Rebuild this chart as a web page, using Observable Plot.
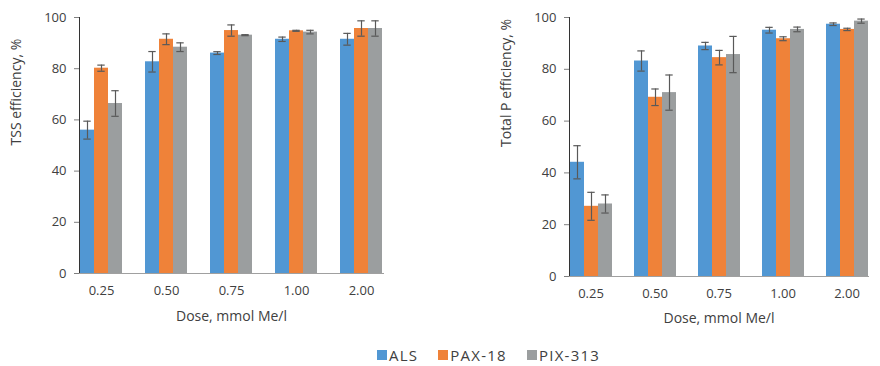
<!DOCTYPE html>
<html><head><meta charset="utf-8">
<script src="https://cdn.jsdelivr.net/npm/d3@7"></script>
<script src="https://cdn.jsdelivr.net/npm/@observablehq/plot@0.6"></script>
<style>
body{margin:0;background:#fff;font-family:"Open Sans",sans-serif;}
#wrap{width:880px;height:366px;background:#fff;}
#charts{display:flex;width:880px;height:330px;}
#legend{display:flex;align-items:flex-start;width:880px;height:36px;padding-top:17px;padding-left:377px;box-sizing:border-box;font-family:"Open Sans",sans-serif;font-size:15px;line-height:16px;color:#404040;letter-spacing:1.25px;}
.item{display:inline-flex;align-items:center;margin-right:20px;white-space:nowrap;height:16px;}
.sw{display:inline-block;width:10px;height:10px;margin-right:2px;}
</style></head><body>
<div id="wrap"><div id="charts"></div><div id="legend"></div></div>
<script>
const doses = ["0.25", "0.50", "0.75", "1.00", "2.00"];
const series = ["ALS", "PAX-18", "PIX-313"];
const colors = ["#5197d3", "#ef8239", "#9b9e9f"];
const yTicks = [0, 20, 40, 60, 80, 100];
const xTitle = "Dose, mmol Me/l";

// TSS efficiency, %
const tssALS = [56.0, 82.7, 86.1, 91.5, 91.5];
const tssALSErr = [3.5, 4.0, 0.55, 0.85, 2.3];
const tssPAX = [80.2, 91.5, 94.9, 94.8, 95.7];
const tssPAXErr = [1.2, 2.1, 2.2, 0.2, 3.0];
const tssPIX = [66.4, 88.4, 93.1, 94.3, 95.7];
const tssPIXErr = [5.0, 1.7, 0.2, 0.7, 3.0];

// Total P efficiency, %
const tpALS = [44.1, 83.2, 89.0, 95.1, 97.4];
const tpALSErr = [6.4, 3.9, 1.4, 1.1, 0.5];
const tpPAX = [27.1, 69.2, 84.5, 91.8, 95.4];
const tpPAXErr = [5.4, 3.2, 2.8, 0.75, 0.45];
const tpPIX = [28.0, 71.0, 85.7, 95.4, 98.6];
const tpPIXErr = [3.5, 6.8, 7.0, 0.9, 0.8];

function rowsOf(vals, errs) {
  const out = [];
  doses.forEach((dose, i) => series.forEach((s, j) => out.push({dose, series: s, value: vals[j][i], err: errs[j][i]})));
  return out;
}
const tssRows = rowsOf([tssALS, tssPAX, tssPIX], [tssALSErr, tssPAXErr, tssPIXErr]);
const tpRows = rowsOf([tpALS, tpPAX, tpPIX], [tpALSErr, tpPAXErr, tpPIXErr]);

function chart(rows, ylabel, m) {
  const lo = d => d.value - d.err, hi = d => d.value + d.err;
  const eb = {fx: "dose", x: "series", stroke: "#595959", strokeWidth: 1.2};
  return Plot.plot({
    width: 440, height: 330,
    marginLeft: m.left, marginRight: m.right, marginTop: 17, marginBottom: m.bottom,
    style: {fontFamily: "Open Sans", fontSize: "13px", color: "#404040", background: "white", overflow: "visible"},
    fx: {domain: doses, paddingInner: 0.33, paddingOuter: 0.165, label: null},
    x: {domain: series, axis: null, padding: 0},
    y: {domain: [0, 100]},
    color: {domain: series, range: colors},
    marks: [
      Plot.barY(rows, {fx: "dose", x: "series", y: "value", fill: "series"}),
      Plot.ruleX(rows, {...eb, y1: lo, y2: hi}),
      Plot.tickY(rows, {...eb, y: lo, insetLeft: 3.3, insetRight: 3.3}),
      Plot.tickY(rows, {...eb, y: hi, insetLeft: 3.3, insetRight: 3.3}),
      Plot.axisY({ticks: yTicks, tickSize: 5, tickPadding: 8, stroke: "#808080", fontSize: 13, fill: "#404040", label: null}),
      Plot.axisFx({anchor: "bottom", tickSize: 0, tickPadding: 12, fontSize: 13, fill: "#404040", label: null}),
      Plot.frame({anchor: "left", facet: "super", stroke: "#333"}),
      Plot.frame({anchor: "bottom", facet: "super", stroke: "#a0a0a0"}),
      Plot.text([ylabel], {facet: "super", frameAnchor: "left", rotate: -90, dx: -63, fontSize: 14, fill: "#404040"}),
      Plot.text([xTitle], {facet: "super", frameAnchor: "bottom", dy: m.xdy, fontSize: 14, fill: "#404040"})
    ]
  });
}

const charts = document.getElementById("charts");
charts.append(chart(tssRows, "TSS efficiency, %", {left: 67, right: 46, bottom: 57, xdy: 47}));
charts.append(chart(tpRows, "Total P efficiency, %", {left: 118, right: 1, bottom: 54, xdy: 46}));

const legend = document.getElementById("legend");
series.forEach((s, i) => {
  const item = document.createElement("span");
  item.className = "item";
  const sw = document.createElement("span");
  sw.className = "sw";
  sw.style.background = colors[i];
  item.append(sw, document.createTextNode(s));
  legend.append(item);
});
</script>
</body></html>
